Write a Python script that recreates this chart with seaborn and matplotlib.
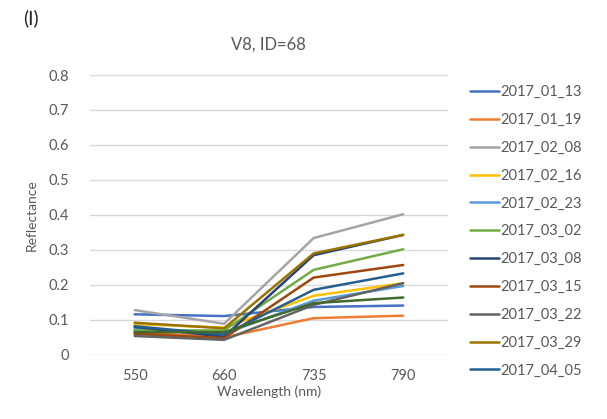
import matplotlib
matplotlib.use("Agg")
import matplotlib.pyplot as plt
import seaborn as sns
import pandas as pd

wavelengths = ["550", "660", "735", "790"]
dates = ["2017_01_13", "2017_01_19", "2017_02_08", "2017_02_16", "2017_02_23",
         "2017_03_02", "2017_03_08", "2017_03_15", "2017_03_22", "2017_03_29",
         "2017_04_05", "2017_04_12"]
r_0113 = [0.116, 0.111, 0.137, 0.141]
r_0119 = [0.065, 0.050, 0.105, 0.112]
r_0208 = [0.128, 0.089, 0.334, 0.402]
r_0216 = [0.088, 0.078, 0.169, 0.205]
r_0223 = [0.075, 0.060, 0.155, 0.197]
r_0302 = [0.070, 0.070, 0.243, 0.302]
r_0308 = [0.080, 0.052, 0.285, 0.343]
r_0315 = [0.060, 0.048, 0.221, 0.257]
r_0322 = [0.054, 0.043, 0.143, 0.205]
r_0329 = [0.092, 0.076, 0.290, 0.343]
r_0405 = [0.082, 0.058, 0.186, 0.233]
r_0412 = [0.065, 0.065, 0.148, 0.164]
series = [r_0113, r_0119, r_0208, r_0216, r_0223, r_0302,
          r_0308, r_0315, r_0322, r_0329, r_0405, r_0412]

colors = ["#4472C4", "#ED7D31", "#A5A5A5", "#FFC000", "#5B9BD5", "#70AD47",
          "#264478", "#9E480E", "#636363", "#997300", "#255E91", "#43682B"]

rows = []
for d, vals in zip(dates, series):
    for w, v in zip(wavelengths, vals):
        rows.append({"date": d, "wl": w, "refl": v})
df = pd.DataFrame(rows)

sns.set_style("white")
plt.rcParams['font.family'] = ['Lato', 'DejaVu Sans']
txt = "#595959"

fig = plt.figure(figsize=(6.07, 4.19), dpi=100)
ax = fig.add_axes([0.148, 0.153, 0.59, 0.668])
sns.lineplot(data=df, x="wl", y="refl", hue="date", palette=colors,
             sort=False, linewidth=1.8, ax=ax, legend=False)

ax.set_xlim(-0.5, 3.5)
ax.set_ylim(0, 0.8)
ax.set_yticks([i / 10 for i in range(9)])
ax.set_yticklabels(["0"] + [f"{i/10:.1f}" for i in range(1, 9)])
ax.grid(axis="y", color="#D9D9D9", linewidth=1)
ax.set_axisbelow(True)
for s in ax.spines.values():
    s.set_visible(False)
ax.tick_params(length=0, labelsize=10.5, labelcolor=txt, pad=15)
ax.tick_params(axis="x", pad=10)
ax.set_xlabel("Wavelength (nm)", fontsize=10, color=txt, labelpad=2)
ax.set_ylabel("Reflectance", fontsize=10, color=txt, labelpad=8)
ax.set_title("V8, ID=68", fontsize=12, color=txt, pad=18)

handles = ax.get_lines()[:11]
fig.legend(handles, dates[:11], loc="upper left", bbox_to_anchor=(0.774, 0.797),
           frameon=False, fontsize=10.5, labelcolor=txt, handlelength=2.0,
           handletextpad=0.1, labelspacing=0.95, borderaxespad=0, borderpad=0)

fig.text(0.038, 0.978, "(I)", fontsize=13.5, color="#262626", va="top")

fig.savefig("out.png", dpi=100)
